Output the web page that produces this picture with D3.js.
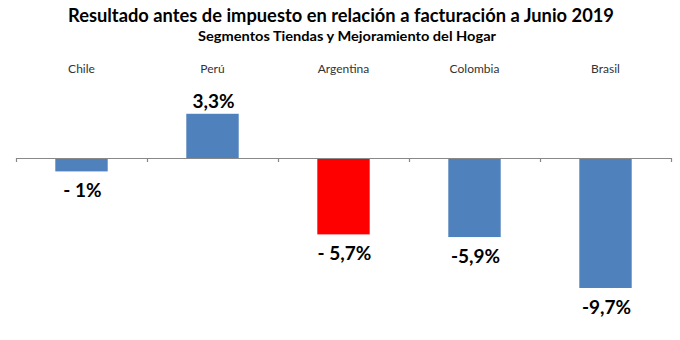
<!DOCTYPE html>
<html>
<head>
<meta charset="utf-8">
<script src="https://cdn.jsdelivr.net/npm/d3@7"></script>
<style>
  html, body { margin: 0; padding: 0; background: #fff; }
  svg { display: block; }
</style>
</head>
<body>
<svg id="chart" width="680" height="340"></svg>
<script>
const titleText = "Resultado antes de impuesto en relación a facturación a Junio 2019";
const subtitleText = "Segmentos Tiendas y Mejoramiento del Hogar";
const categories = ["Chile", "Perú", "Argentina", "Colombia", "Brasil"];
const values = [-1, 3.3, -5.7, -5.9, -9.7];
const valueLabels = ["- 1%", "3,3%", "- 5,7%", "-5,9%", "-9,7%"];
const barColors = ["#4F81BD", "#4F81BD", "#FF0000", "#4F81BD", "#4F81BD"];

const svg = d3.select("#chart");
const font = "Lato, 'Open Sans', sans-serif";

const x = d3.scaleBand()
  .domain(categories)
  .range([16, 671])
  .paddingInner(0.6)
  .paddingOuter(0.3);

const y = d3.scaleLinear()
  .domain([-10, 4])
  .range([292, 104.4]);

const boundary = d3.scaleLinear()
  .domain([0, categories.length])
  .range([16, 671]);

// Title
svg.append("text")
  .attr("x", 341).attr("y", 22)
  .attr("text-anchor", "middle")
  .style("font-family", font)
  .style("font-weight", "bold")
  .style("font-size", "18px")
  .attr("textLength", 546)
  .attr("lengthAdjust", "spacingAndGlyphs")
  .attr("fill", "#000")
  .text(titleText);

svg.append("text")
  .attr("x", 347).attr("y", 41)
  .attr("text-anchor", "middle")
  .style("font-family", font)
  .style("font-weight", "bold")
  .style("font-size", "13px")
  .attr("textLength", 298)
  .attr("lengthAdjust", "spacingAndGlyphs")
  .attr("fill", "#000")
  .text(subtitleText);

// Category labels
svg.append("g").selectAll("text")
  .data(categories)
  .join("text")
  .attr("x", d => x(d) + x.bandwidth() / 2)
  .attr("y", 73)
  .attr("text-anchor", "middle")
  .style("font-family", font)
  .style("font-size", "12px")
  .attr("fill", "#333")
  .text(d => d);

// Bars
svg.append("g").selectAll("rect")
  .data(values)
  .join("rect")
  .attr("x", (d, i) => x(categories[i]))
  .attr("width", x.bandwidth())
  .attr("y", d => y(Math.max(0, d)))
  .attr("height", d => Math.abs(y(d) - y(0)))
  .attr("fill", (d, i) => barColors[i]);

// Axis at zero
const axis = d3.axisBottom(boundary)
  .tickValues(d3.range(categories.length + 1))
  .tickFormat("")
  .tickSize(4)
  .tickSizeOuter(0);
const ag = svg.append("g")
  .attr("transform", `translate(0,${y(0)})`)
  .call(axis);
ag.selectAll("path, line").attr("stroke", "#888").attr("stroke-width", 1.2);

// Value labels
svg.append("g").selectAll("text")
  .data(values)
  .join("text")
  .attr("x", (d, i) => x(categories[i]) + x.bandwidth() / 2 + 1)
  .attr("y", d => d >= 0 ? y(d) - 6 : y(d) + 26)
  .attr("text-anchor", "middle")
  .style("font-family", font)
  .style("font-weight", "bold")
  .style("font-size", "19px")
  .attr("fill", "#000")
  .text((d, i) => valueLabels[i]);
</script>
</body>
</html>
